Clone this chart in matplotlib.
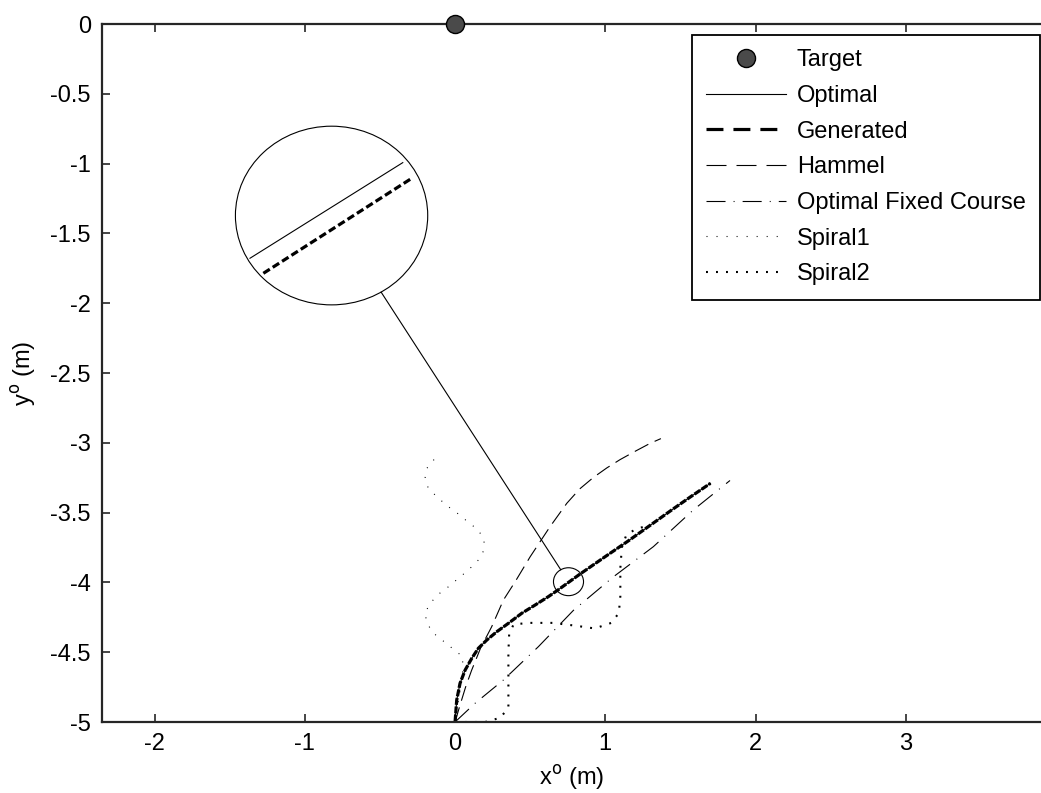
import numpy as np
import matplotlib.pyplot as plt
from matplotlib.lines import Line2D
from matplotlib.patches import Ellipse

plt.rcParams['font.family'] = ['Liberation Sans', 'DejaVu Sans']
plt.rcParams['lines.scale_dashes'] = False

# target position
target_x = [0.0]
target_y = [0.0]

# optimal / generated trajectory
opt_x = [0.0, 0.011, 0.033, 0.067, 0.111, 0.155, 0.211, 0.278, 0.355, 0.444, 0.533, 0.621,
         0.688, 0.832, 1.0, 1.15, 1.30, 1.45, 1.57, 1.70]
opt_y = [-5.0, -4.843, -4.723, -4.628, -4.544, -4.472, -4.413, -4.353, -4.293, -4.221, -4.162,
         -4.102, -4.052, -3.94, -3.815, -3.705, -3.59, -3.475, -3.385, -3.29]

# Hammel trajectory
ham_x = [0.0, 0.03, 0.07, 0.11, 0.17, 0.244, 0.322, 0.40, 0.50, 0.632, 0.744, 0.83, 0.921,
         1.01, 1.099, 1.20, 1.298, 1.37]
ham_y = [-5.0, -4.89, -4.75, -4.63, -4.47, -4.317, -4.126, -3.995, -3.816, -3.601, -3.433,
         -3.33, -3.248, -3.18, -3.12, -3.06, -3.004, -2.97]

# optimal fixed course trajectory
ofc_x = [0.0, 0.133, 0.322, 0.555, 0.788, 1.054, 1.32, 1.587, 1.83]
ofc_y = [-5.0, -4.866, -4.699, -4.46, -4.20, -3.96, -3.744, -3.48, -3.27]

# spiral 1
sp1_x = [0.0, 0.03, 0.05, 0.051, -0.015, -0.082, -0.148, -0.188, -0.20, -0.162, -0.111,
         -0.044, 0.022, 0.089, 0.155, 0.193, 0.193, 0.155, 0.089, 0.022, -0.044, -0.111,
         -0.178, -0.20, -0.188, -0.133]
sp1_y = [-5.0, -4.80, -4.65, -4.532, -4.475, -4.417, -4.36, -4.289, -4.217, -4.145, -4.085,
         -4.031, -3.971, -3.911, -3.84, -3.768, -3.696, -3.625, -3.57, -3.51, -3.458, -3.397,
         -3.326, -3.254, -3.183, -3.111]

# spiral 2
sp2_x = [0.0, 0.10, 0.20, 0.30, 0.355, 0.355, 0.355, 0.36, 0.39, 0.50, 0.65, 0.80, 0.93,
         1.04, 1.09, 1.10, 1.10, 1.11, 1.14, 1.20, 1.26]
sp2_y = [-5.0, -5.0, -5.0, -4.97, -4.90, -4.70, -4.50, -4.37, -4.30, -4.29, -4.29, -4.31, -4.33,
         -4.29, -4.22, -4.10, -3.90, -3.75, -3.66, -3.62, -3.60]

# magnified detail
zoom_center = (0.755, -3.995)
zoom_r = 0.10
lens_center = (-0.822, -1.372)
lens_r = 0.64
lens_opt_x = [-1.365, -0.348]
lens_opt_y = [-1.678, -0.993]
lens_gen_x = [-1.276, -0.288]
lens_gen_y = [-1.786, -1.105]

labels = ['Target', 'Optimal', 'Generated', 'Hammel', 'Optimal Fixed Course', 'Spiral1', 'Spiral2']

fig = plt.figure(figsize=(10.41, 7.93), dpi=100)
ax = fig.add_axes([102 / 1041, 71 / 793, 1 - 102 / 1041, 698 / 793])

thin = 0.8
dash_ham = (11, 5)
dash_ofc = (13.7, 5.8, 0.72, 5.8)
dot1 = (0.72, 6.5)
dot2 = (1.4, 5.8)

ax.plot(opt_x, opt_y, color='k', lw=thin)
ax.plot(opt_x, opt_y, color='k', lw=2.3, dashes=(5, 1.2))
ax.plot(ham_x, ham_y, color='k', lw=thin, dashes=dash_ham)
ax.plot(ofc_x, ofc_y, color='k', lw=thin, dashes=dash_ofc)
ax.plot(sp1_x, sp1_y, color='k', lw=thin, dashes=dot1)
ax.plot(sp2_x, sp2_y, color='k', lw=1.5, dashes=dot2)
ax.plot(target_x, target_y, 'o', ms=13, mfc='#4a4a4a', mec='k', mew=1.0,
        clip_on=False, zorder=5)

# lens circles and connector
ax.add_patch(Ellipse(zoom_center, 2 * zoom_r, 2 * zoom_r, fill=False, ec='k', lw=thin))
ax.add_patch(Ellipse(lens_center, 2 * lens_r, 2 * lens_r, fill=False, ec='k', lw=thin))
d = np.array(zoom_center) - np.array(lens_center)
u = d / np.hypot(*d)
p0 = np.array(lens_center) + lens_r * u
p1 = np.array(zoom_center) - zoom_r * u
ax.plot([p0[0], p1[0]], [p0[1], p1[1]], color='k', lw=thin)
ax.plot(lens_opt_x, lens_opt_y, color='k', lw=thin)
ax.plot(lens_gen_x, lens_gen_y, color='k', lw=2.3, dashes=(5.5, 2.5))

ax.set_xlim(-2.35, 3.90)
ax.set_ylim(-5, 0)
ax.set_xticks([-2, -1, 0, 1, 2, 3])
ax.set_xticklabels(['-2', '-1', '0', '1', '2', '3'])
ax.set_yticks(np.arange(-5, 0.01, 0.5))
ax.set_yticklabels(['-5', '-4.5', '-4', '-3.5', '-3', '-2.5', '-2', '-1.5', '-1', '-0.5', '0'])
ax.tick_params(direction='in', length=6, width=1.2, labelsize=17, top=True,
               colors='#262626', labelcolor='k', pad=8)
for side in ['left', 'bottom', 'top']:
    ax.spines[side].set_linewidth(1.6)
    ax.spines[side].set_color('#262626')
ax.spines['right'].set_visible(False)

ax.set_xlabel('x$^\\mathrm{o}$ (m)', fontsize=17, labelpad=6)
ax.set_ylabel('y$^\\mathrm{o}$ (m)', fontsize=17, labelpad=9)

handles = [
    Line2D([], [], ls='none', marker='o', ms=13, mfc='#4a4a4a', mec='k'),
    Line2D([], [], color='k', lw=thin),
    Line2D([], [], color='k', lw=2.3, dashes=(12.2, 7.2)),
    Line2D([], [], color='k', lw=thin, dashes=(14.4, 7.2)),
    Line2D([], [], color='k', lw=thin, dashes=dash_ofc),
    Line2D([], [], color='k', lw=thin, dashes=dot1),
    Line2D([], [], color='k', lw=1.5, dashes=dot2),
]
leg = ax.legend(handles, labels, loc='upper right', bbox_to_anchor=(1040 / 1041, 1 - 35 / 793),
                bbox_transform=fig.transFigure, borderaxespad=0, fontsize=17,
                handlelength=3.4, handletextpad=0.45, labelspacing=0.58, borderpad=0.6,
                fancybox=False, framealpha=1, edgecolor='k', numpoints=1)
leg.get_frame().set_linewidth(1.3)

fig.savefig('out.png', dpi=100)
